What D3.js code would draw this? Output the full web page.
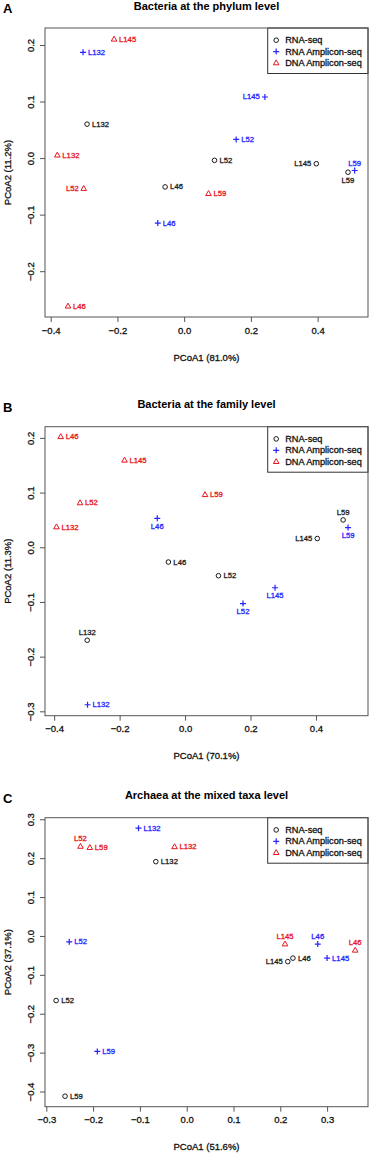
<!DOCTYPE html>
<html lang="en">
<head>
  <meta charset="UTF-8">
  <title>PCoA panels</title>
  <script src="https://d3js.org/d3.v7.min.js"></script>
</head>

<style>
  body {
    margin: 0;
    padding: 0;
    background: #fff;
  }

  svg text {
    font-family: "Liberation Sans", Arial, Helvetica, sans-serif;
  }

  /* the source is a downscaled raster, text reads a touch heavier */
  .heavy {
    stroke-width: 0.3px;
  }
</style>

<body>
<div class="chart"></div>

<script>
  // sample names, same order for every series
  var samples = ['L132', 'L145', 'L46', 'L52', 'L59'];
  var seriesNames = ['RNA-seq', 'RNA Amplicon-seq', 'DNA Amplicon-seq'];

  // panel A: bacteria, phylum level
  var phylumRnaX = [-0.291, 0.396, -0.057, 0.091, 0.491];
  var phylumRnaY = [0.060, -0.010, -0.051, -0.004, -0.025];
  var phylumAmpX = [-0.303, 0.242, -0.079, 0.156, 0.511];
  var phylumAmpY = [0.187, 0.108, -0.115, 0.033, -0.022];
  var phylumDnaX = [-0.380, -0.210, -0.348, -0.301, 0.073];
  var phylumDnaY = [0.005, 0.210, -0.262, -0.054, -0.063];

  // panel B: bacteria, family level
  var familyRnaX = [-0.299, 0.404, -0.051, 0.102, 0.483];
  var familyRnaY = [-0.170, 0.016, -0.027, -0.052, 0.050];
  var familyAmpX = [-0.298, 0.275, -0.085, 0.177, 0.498];
  var familyAmpY = [-0.288, -0.074, 0.053, -0.103, 0.036];
  var familyDnaX = [-0.393, -0.185, -0.380, -0.321, 0.061];
  var familyDnaY = [0.037, 0.159, 0.202, 0.081, 0.096];

  // panel C: archaea, mixed taxa
  var archaeaRnaX = [-0.066, 0.216, 0.227, -0.279, -0.260];
  var archaeaRnaY = [0.191, -0.066, -0.057, -0.166, -0.412];
  var archaeaAmpX = [-0.103, 0.300, 0.280, -0.251, -0.191];
  var archaeaAmpY = [0.277, -0.057, -0.021, -0.015, -0.297];
  var archaeaDnaX = [-0.026, 0.210, 0.360, -0.227, -0.207];
  var archaeaDnaY = [0.229, -0.021, -0.037, 0.230, 0.227];

  // where each label sits, R style: 1 below, 2 left, 3 above, 4 right
  var phylumPos = [[4, 2, 4, 4, 1], [4, 2, 4, 4, 3], [4, 4, 4, 2, 4]];
  var familyPos = [[3, 2, 4, 4, 3], [4, 1, 1, 1, 1], [4, 4, 4, 4, 4]];
  var archaeaPos = [[4, 2, 4, 4, 4], [4, 4, 3, 4, 4], [4, 3, 3, 3, 4]];

  // tick labels
  var phylumXTicks = [-0.4, -0.2, 0.0, 0.2, 0.4];
  var phylumYTicks = [-0.2, -0.1, 0.0, 0.1, 0.2];
  var familyXTicks = [-0.4, -0.2, 0.0, 0.2, 0.4];
  var familyYTicks = [-0.3, -0.2, -0.1, 0.0, 0.1, 0.2];
  var archaeaXTicks = [-0.3, -0.2, -0.1, 0.0, 0.1, 0.2, 0.3];
  var archaeaYTicks = [-0.4, -0.3, -0.2, -0.1, 0.0, 0.1, 0.2, 0.3];

  var colors = ['#1a1a1a', '#2424ff', '#e8141e'];

  var panels = [
    { letter: 'A', title: 'Bacteria at the phylum level', top: 28,
      xLab: 'PCoA1 (81.0%)', yLab: 'PCoA2 (11.2%)',
      xDom: [-0.417, 0.551], yDom: [-0.281, 0.230],
      xTicks: phylumXTicks, yTicks: phylumYTicks, pos: phylumPos,
      xs: [phylumRnaX, phylumAmpX, phylumDnaX], ys: [phylumRnaY, phylumAmpY, phylumDnaY] },
    { letter: 'B', title: 'Bacteria at the family level', top: 426.7,
      xLab: 'PCoA1 (70.1%)', yLab: 'PCoA2 (11.3%)',
      xDom: [-0.428, 0.559], yDom: [-0.308, 0.2205],
      xTicks: familyXTicks, yTicks: familyYTicks, pos: familyPos,
      xs: [familyRnaX, familyAmpX, familyDnaX], ys: [familyRnaY, familyAmpY, familyDnaY] },
    { letter: 'C', title: 'Archaea at the mixed taxa level', top: 817.7,
      xLab: 'PCoA1 (51.6%)', yLab: 'PCoA2 (37.1%)',
      xDom: [-0.3028, 0.3874], yDom: [-0.439, 0.304],
      xTicks: archaeaXTicks, yTicks: archaeaYTicks, pos: archaeaPos,
      xs: [archaeaRnaX, archaeaAmpX, archaeaDnaX], ys: [archaeaRnaY, archaeaAmpY, archaeaDnaY] }
  ];

  var W = 370, H = 1155;
  var left = 45, right = 368, plotH = 289;
  var boxColor = '#555';

  var svg = d3.select('.chart').append('svg')
    .attr('width', W)
    .attr('height', H);

  /** draw one of the three marker types centred on 0,0 */
  function drawMarker(g, type, color) {
    if (type === 0) {
      g.append('circle').attr('r', 2.3)
        .attr('fill', 'none').attr('stroke', color).attr('stroke-width', 1);
    } else if (type === 1) {
      g.append('path').attr('d', 'M-3,0H3M0,-3V3')
        .attr('fill', 'none').attr('stroke', color).attr('stroke-width', 1.2);
    } else {
      g.append('path').attr('d', 'M0,-3.1L2.8,1.8L-2.8,1.8Z')
        .attr('fill', 'none').attr('stroke', color).attr('stroke-width', 1);
    }
  }

  panels.forEach(function (p) {
    var top = p.top, bottom = p.top + plotH;
    var x = d3.scaleLinear().domain(p.xDom).range([left, right]);
    var y = d3.scaleLinear().domain(p.yDom).range([bottom, top]);
    var g = svg.append('g');

    // panel letter and title
    g.append('text').attr('x', 3).attr('y', top - 15)
      .attr('font-size', 13).attr('font-weight', 'bold').text(p.letter);
    g.append('text').attr('x', (left + right) / 2).attr('y', top - 18.5)
      .attr('text-anchor', 'middle').attr('font-size', 11).attr('font-weight', 'bold')
      .text(p.title);

    // axes, R style: no domain line beyond the box, labels parallel to the axis
    var fmt = d3.format('.1f');
    var xa = g.append('g').attr('transform', 'translate(0,' + bottom + ')')
      .call(d3.axisBottom(x).tickValues(p.xTicks).tickFormat(fmt).tickSize(5).tickPadding(5));
    var ya = g.append('g').attr('transform', 'translate(' + left + ',0)')
      .call(d3.axisLeft(y).tickValues(p.yTicks).tickFormat(fmt).tickSize(5));
    [xa, ya].forEach(function (a) {
      a.select('.domain').remove();
      a.selectAll('line').attr('stroke', boxColor);
      a.selectAll('text').attr('font-size', 9.5).attr('fill', '#111')
        .classed('heavy', true).attr('stroke', '#111');
    });
    ya.selectAll('text')
      .attr('x', null).attr('dy', null)
      .attr('text-anchor', 'middle')
      .attr('transform', 'translate(-11,0) rotate(-90)');

    g.append('text').attr('x', (left + right) / 2).attr('y', bottom + 43.5)
      .attr('text-anchor', 'middle').attr('font-size', 9.5).attr('fill', '#111')
      .classed('heavy', true).attr('stroke', '#111')
      .text(p.xLab);
    g.append('text')
      .attr('transform', 'translate(11,' + (top + bottom) / 2 + ') rotate(-90)')
      .attr('text-anchor', 'middle').attr('font-size', 9.5).attr('fill', '#111')
      .classed('heavy', true).attr('stroke', '#111')
      .text(p.yLab);

    // points and their sample labels
    p.xs.forEach(function (xsArr, s) {
      var pts = samples.map(function (name, i) {
        return { name: name, x: xsArr[i], y: p.ys[s][i], pos: p.pos[s][i] };
      });
      var sg = g.append('g');
      pts.forEach(function (d) {
        var m = sg.append('g').attr('transform', 'translate(' + x(d.x) + ',' + y(d.y) + ')');
        drawMarker(m, s, colors[s]);
        var t = m.append('text').attr('font-size', 7.7).attr('fill', colors[s])
          .classed('heavy', true).attr('stroke', colors[s])
          .attr('dominant-baseline', 'central').text(d.name);
        if (d.pos === 4) t.attr('x', 5);
        else if (d.pos === 2) t.attr('x', -5).attr('text-anchor', 'end');
        else if (d.pos === 3) t.attr('y', -7.5).attr('text-anchor', 'middle');
        else t.attr('y', 7.8).attr('text-anchor', 'middle');
      });
    });

    // legend in the top right corner
    var lg = g.append('g').attr('transform', 'translate(' + 267.7 + ',' + top + ')');
    lg.append('rect').attr('width', right - 267.7).attr('height', 45.5)
      .attr('fill', '#fff').attr('stroke', '#333').attr('stroke-width', 1);
    seriesNames.forEach(function (name, s) {
      var row = lg.append('g').attr('transform', 'translate(0,' + (12.2 + s * 11.4) + ')');
      var m = row.append('g').attr('transform', 'translate(8.5,0)');
      drawMarker(m, s, colors[s]);
      row.append('text').attr('x', 17.5).attr('dominant-baseline', 'central')
        .attr('font-size', 9.2).attr('fill', '#111')
        .classed('heavy', true).attr('stroke', '#111').text(name);
    });

    // plot box on top
    g.append('rect').attr('x', left).attr('y', top)
      .attr('width', right - left).attr('height', plotH)
      .attr('fill', 'none').attr('stroke', boxColor).attr('stroke-width', 1);
  });
</script>
</body>
</html>
